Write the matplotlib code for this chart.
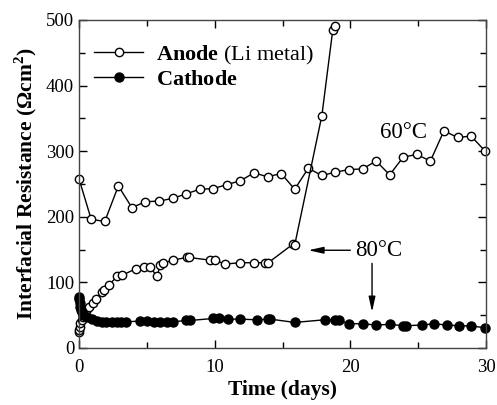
import matplotlib
matplotlib.use('Agg')
import matplotlib.pyplot as plt
from matplotlib.lines import Line2D

plt.rcParams['font.family'] = ['Liberation Serif', 'DejaVu Serif']
plt.rcParams['mathtext.fontset'] = 'custom'
plt.rcParams['mathtext.rm'] = 'Liberation Serif'
plt.rcParams['mathtext.bf'] = 'Liberation Serif:bold'

# anode, 60 C
x60 = [0, 0.9, 1.9, 2.9, 3.9, 4.9, 5.9, 6.9, 7.9, 8.9, 9.9, 10.9, 11.9, 12.9, 13.9, 14.9,
       15.9, 16.9, 17.9, 18.9, 19.9, 20.9, 21.9, 22.9, 23.9, 24.9, 25.9, 26.9, 27.9, 28.9, 29.9]
y60 = [258, 196, 193, 247, 214, 223, 224, 228, 235, 242, 243, 249, 255, 267, 261, 266,
       242, 274, 263, 268, 272, 273, 285, 264, 291, 295, 285, 331, 321, 323, 301]

# anode, 80 C
x80 = [0.0, 0.0, 0.05, 0.1, 0.2, 0.3, 0.44, 0.6, 0.76, 1.0, 1.25, 1.67, 1.87, 2.2, 2.8, 3.2,
       4.2, 4.8, 5.2, 5.77, 5.97, 6.2, 6.9, 7.94, 8.1, 9.65, 10.0, 10.76, 11.9, 12.9, 13.7,
       13.95, 15.75, 15.9, 17.9, 18.7, 18.9]
y80 = [24, 28, 32, 38, 43, 48, 55, 60, 63, 69, 74, 85, 88, 96, 109, 111,
       121, 123, 124, 109, 127, 129, 134, 138, 138, 134, 134, 128, 130, 130, 130,
       130, 158, 157, 354, 484, 491]

# cathode
xc = [0.0, 0.02, 0.05, 0.1, 0.15, 0.2, 0.32, 0.56, 0.94, 1.3, 1.67, 2.0, 2.4, 2.8, 3.1, 3.5,
      4.5, 5.0, 5.5, 6.0, 6.5, 6.95, 7.9, 8.2, 9.9, 10.3, 11.0, 11.9, 13.1, 13.95, 14.1,
      15.9, 18.1, 18.9, 19.2, 19.9, 20.9, 21.9, 22.9, 23.9, 24.1, 25.25, 26.2, 27.1, 28.0,
      28.9, 29.9]
yc = [78, 74, 68, 63, 58, 55, 50, 47, 44, 41, 40, 40, 40, 40, 40, 40,
      41, 41, 40, 40, 40, 40, 42, 42, 45, 45, 44, 44, 43, 44, 44,
      39, 43, 43, 42, 37, 37, 35, 36, 34, 34, 35, 37, 35, 34,
      33.5, 31]

fig = plt.figure(figsize=(4.97, 4.05), dpi=100)
ax = fig.add_axes([79/497, 57/405, 407/497, 328/405])

open_style = dict(color='black', lw=1, marker='o', ms=6, mfc='white', mec='black',
                  mew=1, clip_on=False)
ax.plot(x60, y60, **open_style)
ax.plot(x80, y80, **open_style)
ax.plot(xc, yc, color='black', lw=1, marker='o', ms=6.5, mfc='black', mec='black',
        clip_on=False)

ax.set_xlim(0, 30)
ax.set_ylim(0, 500)
ax.set_xticks([0, 10, 20, 30])
ax.set_xticks([5, 15, 25], minor=True)
ax.set_yticks([0, 100, 200, 300, 400, 500])
ax.set_yticks([50, 150, 250, 350, 450], minor=True)
ax.tick_params(which='both', direction='in', top=True, right=True, labelsize=13.5)
ax.tick_params(which='major', length=6, width=1)
ax.tick_params(which='minor', length=4, width=1)
ax.tick_params(axis='x', pad=8)
for s in ax.spines.values():
    s.set_color('#444444')
    s.set_linewidth(1)

ax.set_xlabel('Time (days)', fontsize=15.5, fontweight='bold', labelpad=3)
ax.set_ylabel('Interfacial Resistance (\u03a9cm$^\\mathbf{2}$)', fontsize=15.5,
              fontweight='bold', labelpad=5)

handles = [Line2D([], [], **open_style),
           Line2D([], [], color='black', lw=1, marker='o', ms=6.5, mfc='black')]
ax.legend(handles, [r'$\mathbf{Anode}$ (Li metal)', r'$\mathbf{Cathode}$'],
          prop={'size': 16}, frameon=False, loc='upper left',
          bbox_to_anchor=(0.038, 0.928), borderaxespad=0, borderpad=0,
          handlelength=2.2, handletextpad=0.55, labelspacing=0.12)

ax.text(23.9, 329, '60\u00b0C', fontsize=16.5, ha='center', va='center')
ax.text(22.1, 149, '80\u00b0C', fontsize=16.5, ha='center', va='center')
ax.annotate('', xy=(16.9, 149), xytext=(20.0, 149),
            arrowprops=dict(arrowstyle='-|>,head_length=0.9,head_width=0.2',
                            color='black', lw=1, shrinkA=0, shrinkB=0))
ax.annotate('', xy=(21.6, 55), xytext=(21.6, 129),
            arrowprops=dict(arrowstyle='-|>,head_length=0.9,head_width=0.2',
                            color='black', lw=1, shrinkA=0, shrinkB=0))

fig.savefig('out.png', dpi=100)
